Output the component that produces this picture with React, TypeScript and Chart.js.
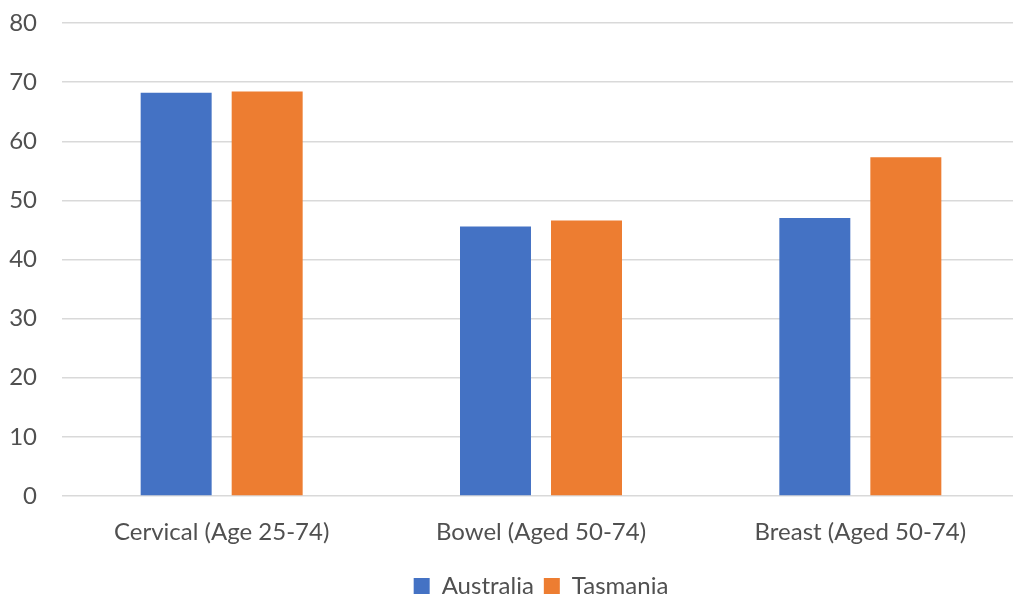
import React, { useEffect, useRef } from "react";
import { Chart, registerables } from "chart.js";

Chart.register(...registerables);

const categories = ["Cervical (Age 25-74)", "Bowel (Aged 50-74)", "Breast (Aged 50-74)"];
const australia = [68.2, 45.6, 47.0];
const tasmania = [68.4, 46.6, 57.3];
const seriesNames = ["Australia", "Tasmania"];

const FONT = "Lato";
const TEXT = "#505050";

export default function App() {
  const ref = useRef<HTMLCanvasElement | null>(null);

  useEffect(() => {
    document.body.style.margin = "0";
    const canvas = ref.current;
    if (!canvas) return;
    const chart = new Chart(canvas, {
      type: "bar",
      data: {
        labels: categories,
        datasets: [
          {
            label: seriesNames[0],
            data: australia,
            backgroundColor: "#4472C4",
            categoryPercentage: 0.57,
            barPercentage: 0.78,
          },
          {
            label: seriesNames[1],
            data: tasmania,
            backgroundColor: "#ED7D31",
            categoryPercentage: 0.57,
            barPercentage: 0.78,
          },
        ],
      },
      options: {
        responsive: false,
        maintainAspectRatio: false,
        animation: false,
        layout: { padding: { top: 23, left: 0, right: 0, bottom: 0 } },
        plugins: {
          legend: {
            position: "bottom",
            fullSize: false,
            labels: {
              boxWidth: 16,
              boxHeight: 16,
              padding: 10,
              color: TEXT,
              font: { family: FONT, size: 24 },
            },
          },
          tooltip: { enabled: false },
        },
        scales: {
          x: {
            grid: { display: false },
            border: { display: false },
            ticks: { color: TEXT, padding: 14, font: { family: FONT, size: 24 } },
            afterFit: (s: any) => {
              s.height = 68;
            },
          },
          y: {
            min: 0,
            max: 80,
            ticks: { stepSize: 10, color: TEXT, padding: 25, font: { family: FONT, size: 24 } },
            grid: { color: "#D9D9D9", lineWidth: 1.5, drawTicks: false },
            border: { display: false },
            afterFit: (s: any) => {
              s.width = 62;
              s.paddingTop = 0;
              s.paddingBottom = 0;
            },
          },
        },
      },
    });
    return () => chart.destroy();
  }, []);

  return (
    <div style={{ width: 1013, height: 598, overflow: "hidden", background: "#fff" }}>
      <canvas ref={ref} width={1020} height={608} style={{ display: "block", width: 1020, height: 608 }} />
    </div>
  );
}
